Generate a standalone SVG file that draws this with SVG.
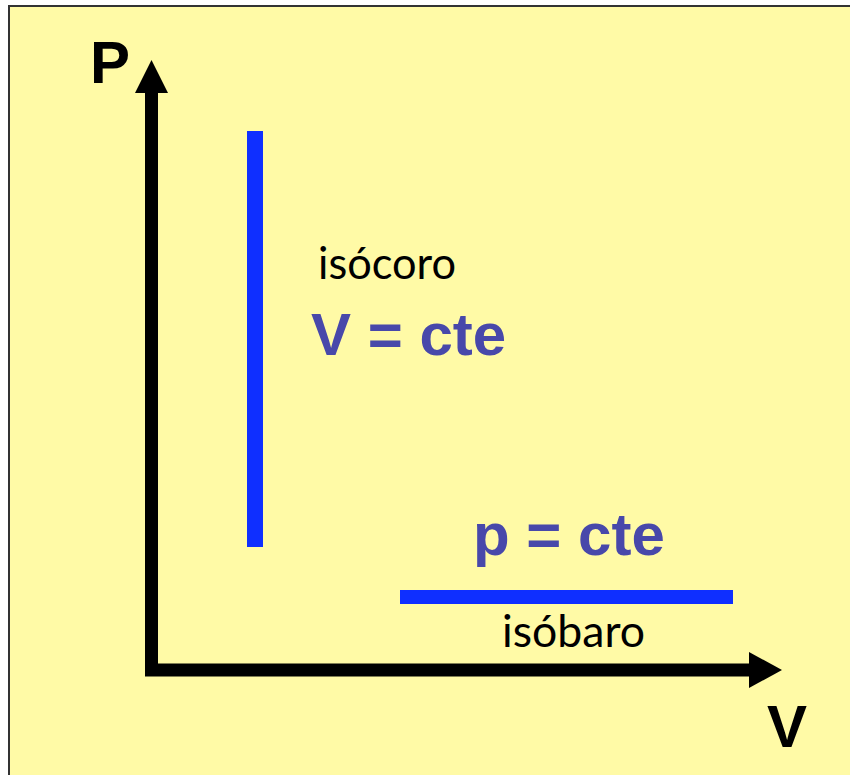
<svg xmlns="http://www.w3.org/2000/svg" width="850" height="775" viewBox="0 0 850 775">
<style>
.axis{stroke:#000;stroke-width:13;fill:none}
.head{fill:#000}
.proc{stroke:#0F2FFF;fill:none}
.lbl{font-family:"Liberation Sans",Arial,sans-serif;font-weight:bold;font-size:60px;fill:#000}
.eq{font-family:"Liberation Sans",Arial,sans-serif;font-weight:bold;font-size:60px;fill:#4848AA}
.name{font-family:Lato,"Open Sans",sans-serif;font-size:44px;fill:#000}
</style>
<rect x="0" y="0" width="850" height="775" fill="#fff"/>
<rect x="9" y="6" width="860" height="800" fill="#FFFAA6" stroke="#333" stroke-width="2"/>
<g id="connectors">
<path class="axis" d="M151.5 92 V670 H752"/>
<polygon class="head" points="151.5,60 168,93 135,93"/>
<polygon class="head" points="782,670 749,652 749,688"/>
</g>
<g id="axis-P"><text class="lbl" x="90" y="83">P</text></g>
<g id="axis-V"><text class="lbl" x="767" y="747">V</text></g>
<g id="isocoro">
<line class="proc" x1="255" y1="131" x2="255" y2="547" stroke-width="16"/>
<text class="name" x="318" y="279" textLength="138" lengthAdjust="spacingAndGlyphs">isócoro</text>
<text class="eq" x="311" y="355">V = cte</text>
</g>
<g id="isobaro">
<line class="proc" x1="400" y1="597" x2="733" y2="597" stroke-width="14"/>
<text class="eq" x="473" y="555">p = cte</text>
<text class="name" x="502" y="647" textLength="143" lengthAdjust="spacingAndGlyphs">isóbaro</text>
</g>
</svg>
